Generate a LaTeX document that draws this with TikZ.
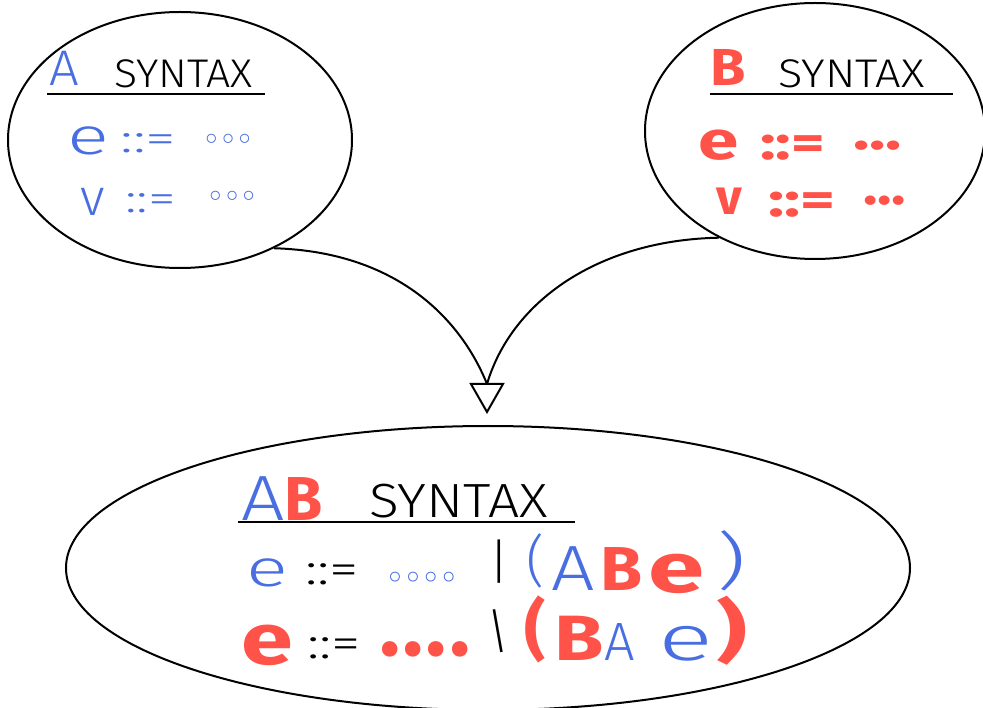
\documentclass[tikz,border=0pt]{standalone}
\usepackage{fontspec}
\usetikzlibrary{shapes.geometric}
\newfontfamily\hl{Fira Sans Light}
\newfontfamily\hb{Fira Sans}
\newfontfamily\dvsym{DejaVu Sans}
\newcommand\fsz[1]{\fontsize{#1}{#1}\selectfont}
\definecolor{myblue}{RGB}{72,110,225}
\definecolor{myred}{RGB}{255,82,72}
\tikzset{
  tx/.style={inner sep=0pt, anchor=base west},
  bl/.style={tx, text=myblue, font=\hl\fsz{#1}},
  rd/.style={tx, text=myred, font=\hb\bfseries\fsz{#1}},
  bk/.style={tx, text=black, font=\hl\fsz{#1}},
  bldots/.style={tx, text=myblue, font=\dvsym\bfseries\fsz{#1}},
  bubble/.style={draw, ellipse, line width=2pt, inner sep=0pt},
  conn/.style={line width=2pt},
  rule/.style={line width=2pt}
}
\begin{document}
\begin{tikzpicture}[x=1pt,y=-1pt]
\useasboundingbox (0,0) rectangle (983,708);
% bubbles
\node[bubble, minimum width=344pt, minimum height=256pt] (A) at (180,140) {};
\node[bubble, minimum width=340pt, minimum height=256pt] (B) at (815,131) {};
\node[bubble, minimum width=844pt, minimum height=284pt] (AB) at (488,568) {};
% connectors
\coordinate (join) at (487,384);
\draw[conn] (A.-49) .. controls (400,252) and (462,322) .. (join);
\draw[conn] (B.-132) .. controls (600,240) and (512,300) .. (join);
\draw[conn, fill=white, line join=miter] (471,384) -- (503,384) -- (487,412) -- cycle;
% A syntax
\node[bl=50, xscale=1.05] (tA) at (49,86) {A};
\node[bk=40, xscale=1.07] (tAsyn) at (114,88) {SYNTAX};
\draw[rule] (47,94) -- (265,94);
\node[bl=52, xscale=1.5] (Ae) at (67,155) {e};
\node[bl=40, xscale=1.55] (Aeq) at (120,153) {::=};
\node[bldots=26] (Adots) at (203,149) {◦◦◦};
\node[bl=52] (Av) at (80,216) {v};
\node[bl=40, xscale=1.4] (Aveq) at (125,213) {::=};
\node[bldots=26] (Avdots) at (207,206) {◦◦◦};
% B syntax
\node[rd=52, xscale=1.1] (tB) at (710,86) {B};
\node[bk=40, xscale=1.13] (tBsyn) at (778,88) {SYNTAX};
\draw[rule] (710,94) -- (953,94);
\node[rd=54, xscale=1.35] (Be) at (698,160) {e};
\node[rd=48, xscale=1.35] (Beq) at (760,160) {::=};
\node[rd=52, xscale=1.3] (Bdots) at (853,150) {...};
\node[rd=50] (Bv) at (716,215) {v};
\node[rd=48, xscale=1.4] (Bveq) at (768,217) {::=};
\node[rd=52, xscale=1.15] (Bvdots) at (863,205) {...};
% AB syntax
\node[bl=64, xscale=1.2] (tABa) at (241,520) {A};
\node[rd=62] (tABb) at (284,520) {B};
\node[bk=48, xscale=1.15] (tABsyn) at (369,518) {SYNTAX};
\draw[rule] (238,522) -- (575,522);
% line 1
\node[bl=52, xscale=1.5] (L1e) at (246,586) {e};
\node[bk=44, xscale=1.35] (L1eq) at (305,584) {::=};
\node[bldots=28] (L1dots) at (386,587) {◦◦◦◦};
\node[bk=48] (L1bar) at (489,578) {|};
\node[bl=56] (L1p) at (526,580) {(};
\node[bl=64, xscale=1.2] (L1a) at (551,590) {A};
\node[rd=62, xscale=1.1] (L1b) at (600,590) {B};
\node[rd=70, xscale=1.45] (L1e2) at (648,592) {e};
\node[bl=62, xscale=1.5] (L1q) at (716,582) {)};
% line 2
\node[rd=72, xscale=1.3] (L2e) at (241,664) {e};
\node[bk=44, xscale=1.35] (L2eq) at (307,658) {::=};
\node[rd=56] (L2dots) at (380,668) {•\kern4pt•\kern4pt•\kern4pt•};
\node[bk=48, rotate=10] (L2bar) at (491,650) {|};
\node[rd=66] (L2p) at (524,652) {(};
\node[rd=64, xscale=1.25] (L2b) at (554,660) {B};
\node[bl=54] (L2a) at (604,660) {A};
\node[bl=64, xscale=1.6] (L2e2) at (658,660) {e};
\node[rd=68, xscale=1.4] (L2q) at (716,654) {)};
\end{tikzpicture}
\end{document}
